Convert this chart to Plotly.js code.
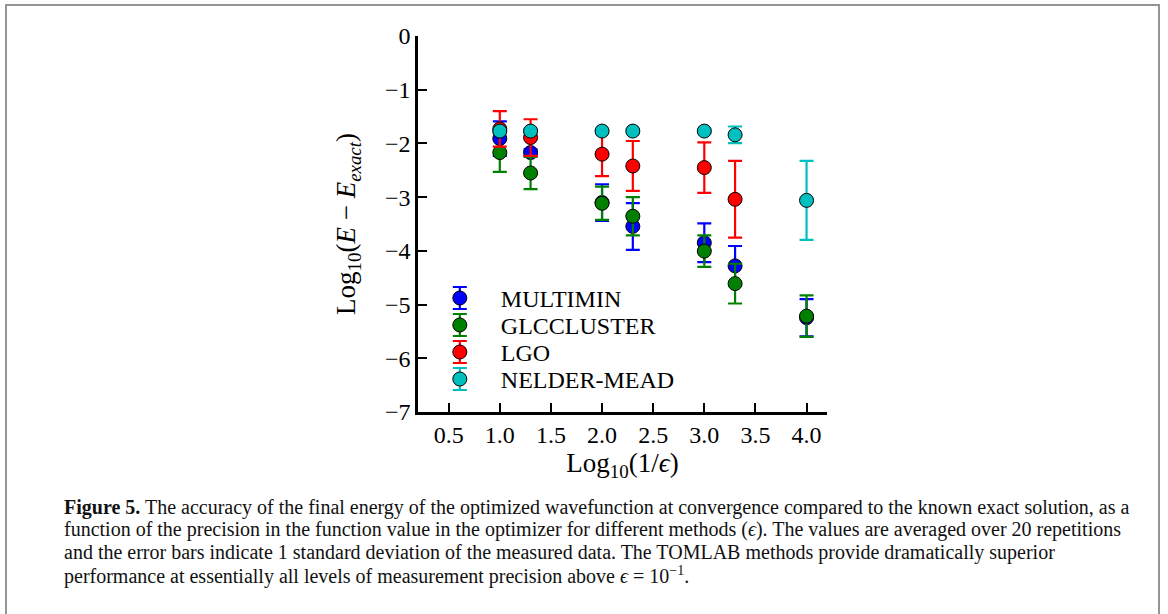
<!DOCTYPE html>
<html>
<head>
<meta charset="utf-8">
<script src="https://cdn.plot.ly/plotly-3.0.1.min.js"></script>
<style>
  html, body { margin: 0; padding: 0; background: #fff; }
  #wrap { position: relative; width: 1168px; height: 614px; overflow: hidden; }
  #chart { position: absolute; left: 0; top: 0; width: 1168px; height: 614px; }
  #frame { position: absolute; left: 5px; top: 4px; width: 1155px; height: 640px;
           border: 2px solid #959595; pointer-events: none; box-sizing: border-box; }
</style>
</head>
<body>
<div id="wrap"><div id="chart"></div><div id="frame"></div></div>
<script>
// ---- data ----
const methods = ["MULTIMIN", "GLCCLUSTER", "LGO", "NELDER-MEAD"];
const colors  = ["#0000ff", "#008000", "#ff0000", "#00bfbf"];

const xMultimin   = [1.0, 1.301, 2.0, 2.301, 3.0, 3.301, 4.0];
const yMultimin   = [-1.91, -2.17, -3.10, -3.545, -3.85, -4.28, -5.245];
const eMultimin   = [0.32, 0.06, 0.34, 0.435, 0.36, 0.37, 0.345];

const xGlccluster = [1.0, 1.301, 2.0, 2.301, 3.0, 3.301, 4.0];
const yGlccluster = [-2.17, -2.55, -3.115, -3.355, -4.005, -4.61, -5.215];
const eGlccluster = [0.36, 0.30, 0.31, 0.355, 0.295, 0.37, 0.385];

const xLgo        = [1.0, 1.301, 2.0, 2.301, 3.0, 3.301];
const yLgo        = [-1.73, -1.89, -2.20, -2.42, -2.45, -3.04];
const eLgo        = [0.33, 0.34, 0.41, 0.465, 0.47, 0.715];

const xNelder     = [1.0, 1.301, 2.0, 2.301, 3.0, 3.301, 4.0];
const yNelder     = [-1.77, -1.77, -1.77, -1.77, -1.77, -1.84, -3.06];
const eNelder     = [0.04, 0.04, 0.04, 0.04, 0.04, 0.155, 0.735];

const xTicks = [0.5, 1.0, 1.5, 2.0, 2.5, 3.0, 3.5, 4.0];
const yTicks = [0, -1, -2, -3, -4, -5, -6, -7];

const captionLines = [
  "<b>Figure 5.</b> The accuracy of the final energy of the optimized wavefunction at convergence compared to the known exact solution, as a",
  "function of the precision in the function value in the optimizer for different methods (<i>ϵ</i>). The values are averaged over 20 repetitions",
  "and the error bars indicate 1 standard deviation of the measured data. The TOMLAB methods provide dramatically superior",
  "performance at essentially all levels of measurement precision above <i>ϵ</i> = 10<sup>−1</sup>."
];

// ---- traces ----
const series = [
  [xMultimin, yMultimin, eMultimin],
  [xGlccluster, yGlccluster, eGlccluster],
  [xLgo, yLgo, eLgo],
  [xNelder, yNelder, eNelder]
];
const FONT = "Liberation Serif, Times New Roman, serif";

const traces = series.map((s, i) => ({
  type: "scatter",
  mode: "markers",
  name: methods[i],
  x: s[0], y: s[1],
  error_y: { type: "data", array: s[2], visible: true, color: colors[i], thickness: 2.2, width: 7 },
  marker: { size: 14, color: colors[i], line: { color: "#000", width: 1 } }
}));

// caption: one annotation per line (pixel rows converted to paper units)
const plotL = 418, plotW = 409, plotB = 412, plotH = 376;
const captionRows = [507, 529.7, 552.3, 575];
const captionAnn = captionLines.map((t, i) => ({
  xref: "paper", yref: "paper",
  x: (62 - plotL) / plotW, y: (plotB - captionRows[i]) / plotH,
  xanchor: "left", yanchor: "middle", align: "left",
  showarrow: false, text: t,
  font: { family: FONT, size: 20, color: "#111" }
}));

const layout = {
  width: 1168, height: 614,
  margin: { l: 418, r: 341, t: 36, b: 202 },
  paper_bgcolor: "#fff", plot_bgcolor: "#fff",
  font: { family: FONT, size: 24, color: "#000" },
  showlegend: true,
  legend: {
    x: 0.002, xanchor: "left", y: 0.362, yanchor: "top",
    bgcolor: "rgba(0,0,0,0)", borderwidth: 0,
    itemwidth: 72,
    font: { family: FONT, size: 24, color: "#000" }
  },
  xaxis: {
    range: [0.2, 4.2], tickmode: "array", tickvals: xTicks,
    ticktext: xTicks.map(v => v.toFixed(1)),
    showgrid: false, zeroline: false, showline: true, linecolor: "#000", linewidth: 2.6,
    ticks: "inside", ticklen: 9, tickwidth: 2, tickcolor: "#000",
    ticklabelstandoff: 0,
    tickfont: { family: FONT, size: 24 },
    title: { text: "Log<sub>10</sub>(1/<i>ϵ</i>)", font: { family: FONT, size: 27 }, standoff: 6 }
  },
  yaxis: {
    range: [-7, 0], tickmode: "array", tickvals: yTicks,
    ticktext: yTicks.map(v => v < 0 ? "−" + Math.abs(v) : String(v)),
    showgrid: false, zeroline: false, showline: true, linecolor: "#000", linewidth: 2.6,
    ticks: "inside", ticklen: 9, tickwidth: 2, tickcolor: "#000",
    tickfont: { family: FONT, size: 24 },
    title: { text: "Log<sub>10</sub>(<i>E</i> − <i>E</i><sub><i>exact</i></sub>)", font: { family: FONT, size: 27 }, standoff: 22 }
  },
  annotations: captionAnn
};

Plotly.newPlot("chart", traces, layout, { displayModeBar: false, staticPlot: true }).then(gd => {
  // tighten legend row spacing and add error-bar glyphs to legend symbols
  const items = gd.querySelectorAll(".legend .traces");
  let y0 = null;
  items.forEach((g, i) => {
    const t = g.getAttribute("transform") || "";
    const m = t.match(/translate\(\s*([-\d.]+)[ ,]+([-\d.]+)\)/);
    if (!m) return;
    const x = parseFloat(m[1]), y = parseFloat(m[2]);
    if (y0 === null) y0 = y;
    g.setAttribute("transform", "translate(" + x + "," + (y0 + i * 27) + ")");
    const pt = g.querySelector(".legendpoints path");
    if (pt) {
      const p = document.createElementNS("http://www.w3.org/2000/svg", "path");
      p.setAttribute("d", "M-7,-11h14M0,-11v22M-7,11h14");
      p.setAttribute("stroke", colors[i]);
      p.setAttribute("stroke-width", "2.2");
      p.setAttribute("fill", "none");
      const tr = pt.getAttribute("transform");
      if (tr) p.setAttribute("transform", tr);
      pt.parentNode.insertBefore(p, pt);
    }
  });
});
</script>
</body>
</html>
